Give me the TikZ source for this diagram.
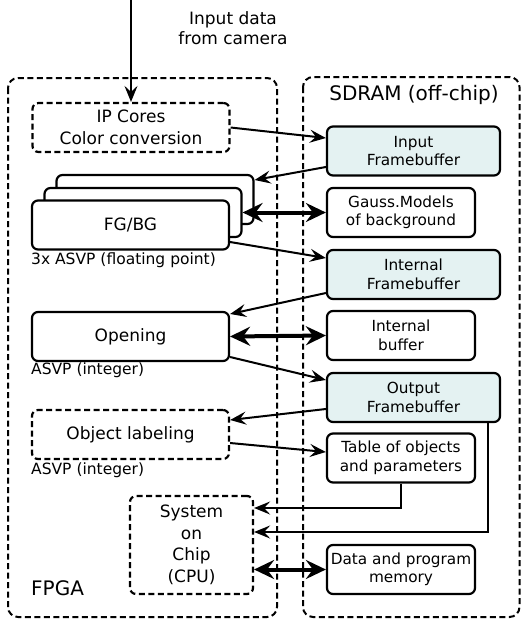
\documentclass[tikz,border=0pt]{standalone}
\usepackage{fontspec}
\setmainfont{DejaVu Sans}
\usetikzlibrary{arrows.meta,calc}
\definecolor{fbfill}{RGB}{228,242,242}
\begin{document}
\begin{tikzpicture}[x=1pt,y=-1pt,
  container/.style={draw,line width=2pt,dash pattern=on 6pt off 3.5pt,rounded corners=10pt},
  box/.style={draw,line width=2.2pt,rounded corners=6pt,fill=white,align=center,inner sep=0pt},
  fbox/.style={box,minimum width=197pt,minimum height=49pt,font=\fontsize{17}{21.5}\selectfont},
  dbox/.style={fbox,dash pattern=on 6pt off 3.5pt},
  sbox/.style={box,minimum width=148pt,minimum height=49pt,font=\fontsize{15.3}{18.5}\selectfont},
  fb/.style={sbox,minimum width=173pt,fill=fbfill},
  lbl/.style={anchor=west,inner sep=0pt,font=\fontsize{15.5}{18}\selectfont},
  thinarrow/.style={line width=2pt,-{Stealth[length=16pt,width=13pt,inset=6pt]}},
  thickarrow/.style={line width=4pt,{Stealth[length=20pt,width=19pt,inset=7pt]}-{Stealth[length=20pt,width=19pt,inset=7pt]}}
]
\useasboundingbox (0,0) rectangle (521,622);
\draw[container] (8,78) rectangle (277,617);
\draw[container] (303,77) rectangle (519.5,617);

\node[dbox] (ip) at (131,127.5) {IP Cores\\Color conversion};
\node[fbox] (fg3) at (155,199.5) {};
\node[fbox] (fg2) at (143,212.5) {};
\node[fbox] (fg1) at (130.5,225) {FG/BG};
\node[fbox] (open) at (130.5,336.5) {Opening};
\node[dbox] (obj) at (130.5,434.5) {Object labeling};
\node[dbox,minimum width=123pt,minimum height=98pt] (soc) at (191.5,545) {System\\on\\Chip\\(CPU)};

\node[fb] (infb) at (413.5,151) {Input\\Framebuffer};
\node[sbox] (gauss) at (401,212.5) {Gauss.Models\\of background};
\node[fb] (intfb) at (413.5,274.5) {Internal\\Framebuffer};
\node[sbox] (intbuf) at (401,335.5) {Internal\\buffer};
\node[fb] (outfb) at (413.5,397.5) {Output\\Framebuffer};
\node[sbox] (table) at (401,458) {Table of objects\\and parameters};
\node[sbox] (mem) at (401,569.5) {Data and program\\memory};

\node[lbl] (l1) at (31,260) {3x ASVP (floating point)};
\node[lbl] (l2) at (31,370) {ASVP (integer)};
\node[lbl] (l3) at (31,470) {ASVP (integer)};
\node[anchor=west,inner sep=0pt,font=\fontsize{20}{24}\selectfont] (fpga) at (31,588) {FPGA};
\node[inner sep=0pt,font=\fontsize{20}{24}\selectfont] (sdram) at (414,95) {SDRAM (off-chip)};
\node[align=center,inner sep=0pt,font=\fontsize{17}{20}\selectfont] (cam) at (233,28) {Input data\\from camera};
\coordinate (src) at (131,0);

\draw[thinarrow] (src) -- (ip.north);
\draw[thinarrow] (ip.east) -- ([yshift=13pt]infb.west);
\draw[thinarrow] ([yshift=-16pt]infb.west) -- ([yshift=19.5pt]fg3.east);
\draw[thickarrow] (gauss.west) -- (fg2.east);
\draw[thinarrow] ([yshift=-17pt]fg1.east) -- ([yshift=16.5pt]intfb.west);
\draw[thinarrow] ([yshift=-18.5pt]intfb.west) -- ([yshift=22.5pt]open.east);
\draw[thickarrow] (intbuf.west) -- (open.east);
\draw[thinarrow] ([yshift=-20.5pt]open.east) -- ([yshift=17.5pt]outfb.west);
\draw[thinarrow] ([yshift=-11.5pt]outfb.west) -- ([yshift=14.5pt]obj.east);
\draw[thinarrow] ([yshift=-8.5pt]obj.east) -- ([yshift=6pt]table.west);
\draw[thinarrow] (table.south) |- ([yshift=37pt]soc.east);
\draw[thinarrow] ([xshift=74.5pt]outfb.south) |- ([yshift=13pt]soc.east);
\draw[thickarrow] (mem.west) -- ([yshift=-24.5pt]soc.east);
\end{tikzpicture}
\end{document}
